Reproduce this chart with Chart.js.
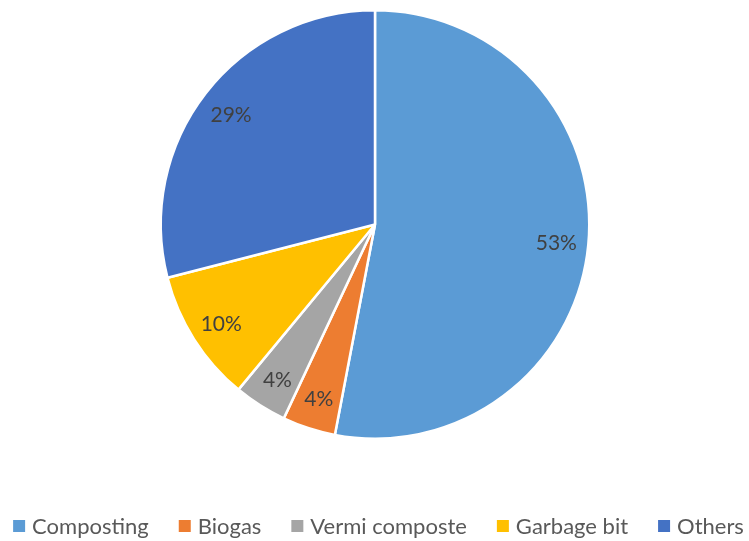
<!DOCTYPE html>
<html>
<head>
<meta charset="utf-8">
<script src="https://cdn.jsdelivr.net/npm/chart.js@4/dist/chart.umd.min.js"></script>
<style>
  html, body { margin: 0; padding: 0; background: #ffffff; }
  #wrap { width: 749px; height: 541px; position: relative; }
</style>
</head>
<body>
<div id="wrap"><canvas id="pie"></canvas></div>
<script>
// Waste treatment methods and their shares (%)
const categories = ['Composting', 'Biogas', 'Vermi composte', 'Garbage bit', 'Others'];
const shares = [53, 4, 4, 10, 29];
const sliceColors = ['#5B9BD5', '#ED7D31', '#A5A5A5', '#FFC000', '#4472C4'];

const FONT = 'Lato, "Open Sans", sans-serif';

// Percentage labels placed inside each slice near its outer edge
const sliceLabels = {
  id: 'sliceLabels',
  afterDatasetsDraw(chart) {
    const { ctx } = chart;
    const meta = chart.getDatasetMeta(0);
    const data = chart.data.datasets[0].data;
    const total = data.reduce((a, b) => a + b, 0);
    ctx.save();
    ctx.font = '21px ' + FONT;
    ctx.fillStyle = '#404040';
    ctx.textAlign = 'center';
    ctx.textBaseline = 'middle';
    meta.data.forEach((arc, i) => {
      const p = arc.getProps(['x', 'y', 'startAngle', 'endAngle', 'outerRadius']);
      const mid = (p.startAngle + p.endAngle) / 2;
      const r = p.outerRadius * 0.85;
      const pct = Math.round(data[i] / total * 100) + '%';
      ctx.fillText(pct, p.x + Math.cos(mid) * r, p.y + Math.sin(mid) * r + 2);
    });
    ctx.restore();
  }
};

// Single-row legend along the bottom edge
const bottomLegend = {
  id: 'bottomLegend',
  afterDraw(chart) {
    const { ctx } = chart;
    const labels = chart.data.labels;
    const colors = chart.data.datasets[0].backgroundColor;
    const box = 12, boxGap = 7, itemGap = 30, yMid = 526;
    ctx.save();
    ctx.font = '22px ' + FONT;
    ctx.textBaseline = 'middle';
    const widths = labels.map(t => box + boxGap + ctx.measureText(t).width);
    const total = widths.reduce((a, b) => a + b, 0) + itemGap * (labels.length - 1);
    let x = (chart.width - total) / 2 + 4;
    labels.forEach((t, i) => {
      ctx.fillStyle = colors[i];
      ctx.fillRect(x, yMid - box / 2, box, box);
      ctx.fillStyle = '#595959';
      ctx.fillText(t, x + box + boxGap, yMid + 1);
      x += widths[i] + itemGap;
    });
    ctx.restore();
  }
};

new Chart(document.getElementById('pie'), {
  type: 'pie',
  data: {
    labels: categories,
    datasets: [{
      data: shares,
      backgroundColor: sliceColors,
      borderColor: '#ffffff',
      borderWidth: 2.5,
      hoverOffset: 0
    }]
  },
  options: {
    responsive: true,
    maintainAspectRatio: false,
    animation: false,
    layout: { padding: { top: 9, bottom: 101, left: 1, right: 0 } },
    plugins: {
      legend: { display: false },
      tooltip: { enabled: false }
    }
  },
  plugins: [sliceLabels, bottomLegend]
});
</script>
</body>
</html>
